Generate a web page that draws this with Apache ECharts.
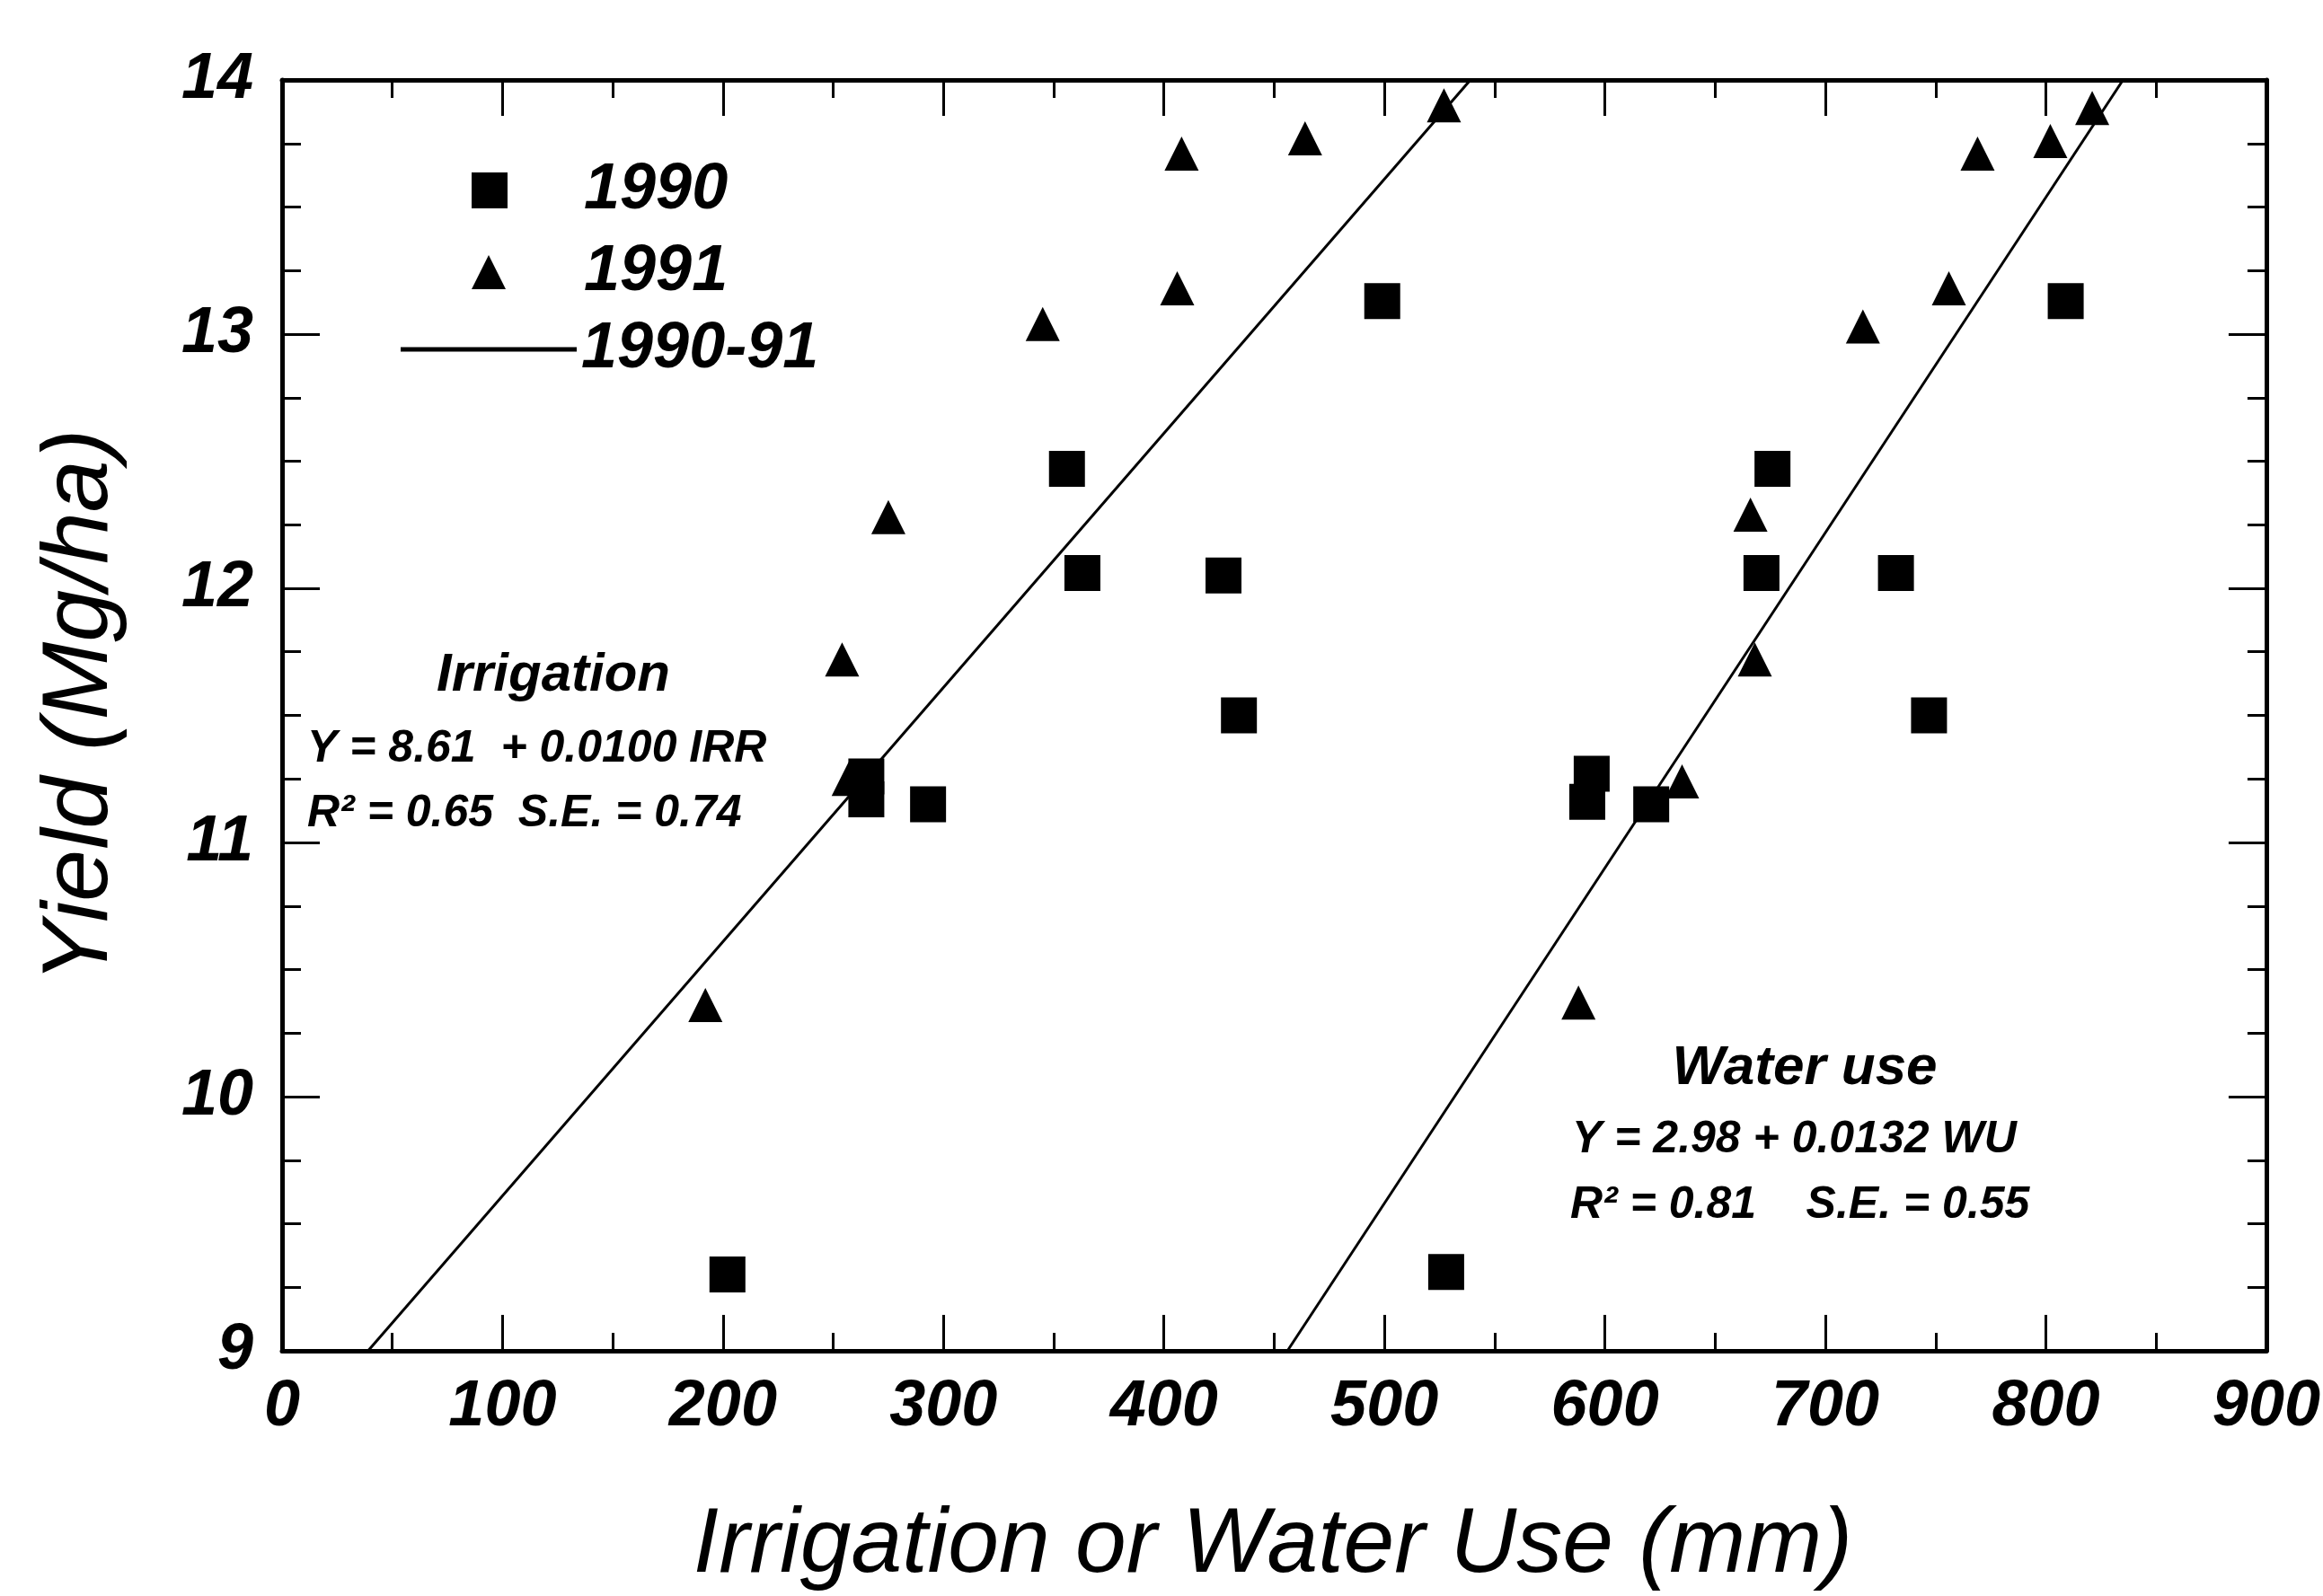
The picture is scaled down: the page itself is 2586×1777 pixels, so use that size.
<!DOCTYPE html>
<html>
<head>
<meta charset="utf-8">
<script src="https://cdn.jsdelivr.net/npm/echarts@6/dist/echarts.min.js"></script>
<style>
  html, body { margin: 0; padding: 0; background: #fff; }
  #chart { width: 2586px; height: 1777px; }
</style>
</head>
<body>
<div id="chart"></div>
<script>
// values (x in mm, y in Mg/ha)
const irrigation1990 = [[202, 9.30], [265, 11.26], [265, 11.17], [293, 11.15], [356, 12.47],
                        [363, 12.06], [427, 12.05], [434, 11.50], [499, 13.13]]
const waterUse1990 = [[528, 9.31], [592, 11.16], [594, 11.27], [621, 11.15], [671, 12.06],
                      [676, 12.47], [732, 12.06], [747, 11.50], [809, 13.13]]
const irrigation1991 = [[192, 10.36], [254, 11.72], [257, 11.25], [275, 12.28], [345, 13.04],
                        [406, 13.18], [408, 13.71], [464, 13.77], [527, 13.90]]
const waterUse1991 = [[588, 10.37], [635, 11.24], [666, 12.29], [668, 11.72], [717, 13.03],
                      [756, 13.18], [769, 13.71], [802, 13.76], [821, 13.89]]
// fitted lines, end points as drawn
const irrigationFit = [[39, 9], [539, 14]]
const waterUseFit = [[456, 9], [835, 14]]

const irrigationText = ['Irrigation', 'Y = 8.61  + 0.0100 IRR', 'R\u00b2 = 0.65  S.E. = 0.74']
const waterUseText = ['Water use', 'Y = 2.98 + 0.0132 WU', 'R\u00b2 = 0.81    S.E. = 0.55']

const FONT = '"Liberation Sans", Arial, sans-serif'

const chart = echarts.init(document.getElementById('chart'), null, { renderer: 'canvas' })

function makeXAxis(pos, showLabel) {
    return {
        type: 'value',
        position: pos,
        min: 0,
        max: 900,
        interval: 100,
        axisLine: { show: true, onZero: false, lineStyle: { color: '#000', width: 5 } },
        axisTick: { show: true, inside: true, length: 40, lineStyle: { color: '#000', width: 3 } },
        minorTick: { show: true, splitNumber: 2, length: 20, lineStyle: { color: '#000', width: 3 } },
        splitLine: { show: false },
        axisLabel: {
            show: showLabel,
            margin: 27,
            color: '#000',
            fontSize: 72,
            fontStyle: 'italic',
            fontWeight: 'bold',
            fontFamily: FONT
        }
    }
}

function makeYAxis(pos, showLabel) {
    return {
        type: 'value',
        position: pos,
        min: 9,
        max: 14,
        interval: 1,
        axisLine: { show: true, onZero: false, lineStyle: { color: '#000', width: 5 } },
        axisTick: { show: true, inside: true, length: 42, lineStyle: { color: '#000', width: 3 } },
        minorTick: { show: true, splitNumber: 4, length: 21, lineStyle: { color: '#000', width: 3 } },
        splitLine: { show: false },
        axisLabel: {
            show: showLabel,
            margin: 32,
            color: '#000',
            fontSize: 72,
            fontStyle: 'italic',
            fontWeight: 'bold',
            fontFamily: FONT
        }
    }
}

function scatter(name, data, symbol, size) {
    return {
        type: 'scatter',
        name: name,
        data: data,
        symbol: symbol,
        symbolSize: size,
        itemStyle: { color: '#000', opacity: 1 },
        z: 3
    }
}

function fitLine(data) {
    return {
        type: 'line',
        name: '1990-91',
        data: data,
        showSymbol: false,
        symbol: 'none',
        lineStyle: { color: '#000', width: 3 },
        itemStyle: { color: '#000' },
        z: 2
    }
}

const legendText = {
    color: '#000',
    fontSize: 72,
    fontStyle: 'italic',
    fontWeight: 'bold',
    fontFamily: FONT
}

function annotation(text, x, y, size, align) {
    return {
        type: 'text',
        x: x,
        y: y,
        style: {
            text: text,
            font: 'italic bold ' + size + 'px ' + FONT,
            fill: '#000',
            align: align,
            verticalAlign: 'middle'
        }
    }
}

const options = {
    backgroundColor: '#fff',
    animation: false,
    grid: { left: 314, right: 62, top: 89, bottom: 273, containLabel: false },
    xAxis: [makeXAxis('bottom', true), makeXAxis('top', false)],
    yAxis: [makeYAxis('left', true), makeYAxis('right', false)],
    legend: [
        {
            data: [{ name: '1990', icon: 'rect' }],
            left: 525, top: 176, padding: 0, itemWidth: 40, itemHeight: 40,
            selectedMode: false,
            textStyle: Object.assign({ padding: [0, 0, 0, 80] }, legendText)
        },
        {
            data: [{ name: '1991', icon: 'triangle' }],
            left: 525, top: 267, padding: 0, itemWidth: 38, itemHeight: 38,
            selectedMode: false,
            textStyle: Object.assign({ padding: [0, 0, 0, 82] }, legendText)
        },
        {
            data: [{ name: '1990-91', icon: 'rect' }],
            left: 446, top: 353, padding: 0, itemWidth: 196, itemHeight: 5,
            selectedMode: false,
            textStyle: Object.assign({ padding: [0, 0, 0, 0] }, legendText)
        }
    ],
    series: [
        fitLine(irrigationFit),
        fitLine(waterUseFit),
        scatter('1990', irrigation1990, 'rect', 40),
        scatter('1990', waterUse1990, 'rect', 40),
        scatter('1991', irrigation1991, 'triangle', 38),
        scatter('1991', waterUse1991, 'triangle', 38)
    ],
    graphic: [
        annotation(irrigationText[0], 616, 752, 60, 'center'),
        annotation(irrigationText[1], 342, 834, 50, 'left'),
        annotation(irrigationText[2], 342, 906, 50, 'left'),
        annotation(waterUseText[0], 2009, 1190, 62, 'center'),
        annotation(waterUseText[1], 1750, 1269, 50, 'left'),
        annotation(waterUseText[2], 1748, 1342, 50, 'left'),
        {
            type: 'text',
            x: 1417,
            y: 1722,
            style: {
                text: 'Irrigation or Water Use (mm)',
                font: 'italic 102px ' + FONT,
                fill: '#000',
                align: 'center',
                verticalAlign: 'middle'
            }
        },
        {
            type: 'text',
            x: 90,
            y: 786,
            rotation: Math.PI / 2,
            style: {
                text: 'Yield (Mg/ha)',
                font: 'italic 104px ' + FONT,
                fill: '#000',
                align: 'center',
                verticalAlign: 'middle'
            }
        }
    ]
}

chart.setOption(options)
</script>
</body>
</html>
